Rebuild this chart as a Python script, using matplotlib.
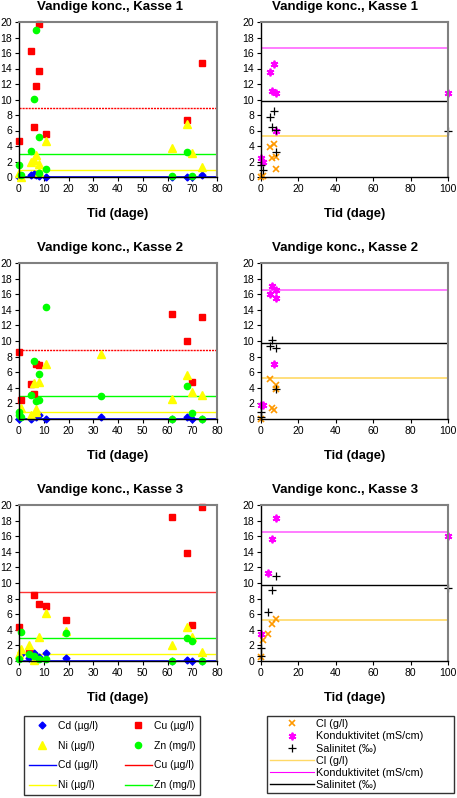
import numpy as np
import matplotlib
matplotlib.use("Agg")
import matplotlib.pyplot as plt
from matplotlib.lines import Line2D

plt.rcParams['font.family'] = ['Liberation Sans', 'DejaVu Sans']

# (tid, koncentration) for hver kasse
cd1 = [(0, 0.0), (5, 0.2), (6, 0.4), (7, 0.3), (8, 0.1), (11, 0.05), (62, 0.0), (68, 0.0), (70, 0.0), (74, 0.2)]
cu1 = [(0, 4.6), (5, 16.2), (6, 6.4), (7, 11.8), (8, 13.7), (8, 19.8), (11, 5.6), (68, 7.4), (74, 14.7)]
ni1 = [(0, 0.5), (1, 0.0), (5, 1.9), (6, 2.2), (7, 2.9), (8, 1.7), (8, 0.6), (11, 4.7), (62, 3.8), (68, 6.9), (70, 3.1), (74, 1.3)]
zn1 = [(0, 1.6), (1, 0.3), (5, 3.3), (6, 10.1), (7, 19.0), (8, 5.1), (8, 0.5), (11, 1.0), (62, 0.1), (68, 3.2), (70, 0.1)]

cd2 = [(0, 0.0), (5, 0.0), (7, 0.2), (8, 0.5), (11, 0.0), (33, 0.2), (62, 0.0), (68, 0.2), (70, 0.0), (74, 0.0)]
cu2 = [(0, 8.6), (1, 2.4), (5, 4.5), (6, 3.2), (7, 7.1), (8, 6.9), (62, 13.4), (68, 10.0), (70, 4.7), (74, 13.1)]
ni2 = [(1, 1.4), (5, 0.5), (6, 4.6), (7, 0.9), (7, 1.3), (8, 4.7), (11, 7.0), (33, 8.3), (62, 2.6), (68, 5.7), (70, 3.4), (74, 3.1)]
zn2 = [(0, 0.9), (0, 0.5), (1, 0.2), (5, 3.1), (6, 7.5), (7, 2.3), (8, 5.8), (8, 2.5), (11, 14.3), (33, 2.9), (62, 0.0), (68, 4.2), (70, 0.8), (74, 0.0)]

cd3 = [(1, 0.9), (4, 0.4), (6, 1.0), (8, 0.5), (11, 1.0), (19, 0.4), (62, 0.0), (68, 0.1), (70, 0.0), (74, 0.0)]
cu3 = [(0, 4.3), (4, 1.3), (6, 8.4), (8, 7.3), (11, 7.1), (19, 5.3), (62, 18.4), (68, 13.8), (70, 4.6), (74, 19.7)]
ni3 = [(0, 0.9), (1, 1.6), (4, 2.0), (6, 0.1), (8, 3.1), (11, 6.1), (19, 3.9), (62, 2.0), (68, 4.3), (70, 3.1), (74, 1.2)]
zn3 = [(0, 0.2), (1, 3.7), (4, 0.9), (6, 0.6), (8, 0.3), (11, 0.2), (19, 3.6), (62, 0.0), (68, 2.9), (70, 2.6), (74, 0.0)]

cl1 = [(0, 0.0), (1, 0.1), (5, 3.9), (6, 2.4), (7, 4.3), (8, 2.6), (8, 1.0)]
kond1 = [(0, 2.5), (1, 1.9), (5, 13.5), (6, 11.1), (7, 14.6), (8, 10.9), (8, 6.0), (100, 10.9)]
sal1 = [(0, 1.6), (1, 0.9), (5, 7.8), (6, 6.4), (7, 8.5), (8, 6.1), (8, 3.2), (100, 6.0)]

cl2 = [(0, 0.0), (5, 5.1), (6, 1.4), (7, 1.2), (8, 4.3), (8, 3.8)]
kond2 = [(0, 1.8), (1, 1.8), (5, 16.0), (6, 17.1), (7, 7.1), (8, 16.6), (8, 15.5)]
sal2 = [(0, 0.9), (0, 0.3), (5, 9.4), (6, 10.1), (8, 9.1), (8, 3.9)]

cl3 = [(0, 0.5), (1, 2.7), (4, 3.4), (6, 4.7), (8, 5.4)]
kond3 = [(0, 3.4), (4, 11.3), (6, 15.7), (8, 18.3), (100, 16.0)]
sal3 = [(0, 0.7), (0, 1.7), (4, 6.3), (6, 9.1), (8, 10.9), (100, 9.3)]

# graensevaerdier
cd_lim, cu_lim, ni_lim, zn_lim = 0.0, 8.9, 0.9, 3.0
cl_lim, kond_lim, sal_lim = 5.25, 16.6, 9.8

W, H = 457, 798
fig = plt.figure(figsize=(W / 100, H / 100), dpi=100)

def box(x0, y0, x1, y1):
    return [x0 / W, 1 - y1 / H, (x1 - x0) / W, (y1 - y0) / H]

rows = [(22, 177), (263, 419), (505, 661)]
metal = [(cd1, cu1, ni1, zn1), (cd2, cu2, ni2, zn2), (cd3, cu3, ni3, zn3)]
water = [(cl1, kond1, sal1), (cl2, kond2, sal2), (cl3, kond3, sal3)]

c_cd, c_cu, c_ni, c_zn = '#0000FF', '#FF0000', '#FFFF00', '#00FF00'
c_cl, c_kond, c_sal = '#FF9900', '#FF00FF', 'black'
l_cl, l_kond = '#FFD966', '#FF66FF'

mk = dict(ls='none', clip_on=False)
star = (6, 2, 0)

def style(ax, xmax, step):
    ax.set_xlim(0, xmax)
    ax.set_ylim(0, 20)
    ax.set_yticks(np.arange(0, 21, 2))
    ax.set_xticks(np.arange(0, xmax + 1, step))
    ax.tick_params(labelsize=7.5, length=3, width=0.8, pad=2)
    for s in ['left', 'bottom']:
        ax.spines[s].set_color('black')
        ax.spines[s].set_linewidth(1)
    for s in ['top', 'right']:
        ax.spines[s].set_color('#808080')
        ax.spines[s].set_linewidth(1.5)

def xy(pts):
    a = np.array(pts)
    return a[:, 0], a[:, 1]

for i, (top, bot) in enumerate(rows):
    ax = fig.add_axes(box(19, top, 217, bot))
    cd, cu, ni, zn = metal[i]
    ls_cu = (0, (1.5, 0.7)) if i < 2 else '-'
    ax.axhline(cu_lim, color=c_cu, lw=1, ls=ls_cu, alpha=0.8 if i == 2 else 1)
    ax.axhline(zn_lim, color=c_zn, lw=1)
    ax.axhline(ni_lim, color=c_ni, lw=1)
    ax.axhline(cd_lim, color=c_cd, lw=1.2)
    ax.plot(*xy(cd), marker='D', ms=3.5, color=c_cd, **mk)
    ax.plot(*xy(cu), marker='s', ms=4.5, color=c_cu, **mk)
    ax.plot(*xy(ni), marker='^', ms=5.5, color=c_ni, **mk)
    ax.plot(*xy(zn), marker='o', ms=4.5, color=c_zn, **mk)
    style(ax, 80, 10)
    fig.text(110 / W, 1 - (top - 15) / H, 'Vandige konc., Kasse %d' % (i + 1),
             ha='center', va='center', fontsize=9.5, fontweight='bold')
    fig.text(118 / W, 1 - (bot + 37) / H, 'Tid (dage)', ha='center', va='center',
             fontsize=9.3, fontweight='bold')

    ax = fig.add_axes(box(261, top, 448, bot))
    cl, kond, sal = water[i]
    ax.axhline(cl_lim, color=l_cl, lw=1.2)
    ax.axhline(kond_lim, color=l_kond, lw=1.2)
    ax.axhline(sal_lim, color=c_sal, lw=1)
    ax.plot(*xy(cl), marker='x', ms=4.5, mew=1.2, color=c_cl, **mk)
    ax.plot(*xy(kond), marker=star, ms=5.5, mew=1.3, color=c_kond, **mk)
    ax.plot(*xy(sal), marker='+', ms=6, mew=0.9, color=c_sal, **mk)
    style(ax, 100, 20)
    fig.text(345 / W, 1 - (top - 15) / H, 'Vandige konc., Kasse %d' % (i + 1),
             ha='center', va='center', fontsize=9.5, fontweight='bold')
    fig.text(355 / W, 1 - (bot + 37) / H, 'Tid (dage)', ha='center', va='center',
             fontsize=9.3, fontweight='bold')

# legender
h_cd = Line2D([], [], ls='none', marker='D', ms=3.5, color=c_cd)
h_cu = Line2D([], [], ls='none', marker='s', ms=4.5, color=c_cu)
h_ni = Line2D([], [], ls='none', marker='^', ms=5.5, color=c_ni)
h_zn = Line2D([], [], ls='none', marker='o', ms=4.5, color=c_zn)
hl_cd = Line2D([], [], color=c_cd, lw=1)
hl_cu = Line2D([], [], color=c_cu, lw=1)
hl_ni = Line2D([], [], color=c_ni, lw=1)
hl_zn = Line2D([], [], color=c_zn, lw=1)
handles = [h_cd, h_ni, hl_cd, hl_ni, h_cu, h_zn, hl_cu, hl_zn]
labels = ['Cd (µg/l)', 'Ni (µg/l)', 'Cd (µg/l)', 'Ni (µg/l)',
          'Cu (µg/l)', 'Zn (mg/l)', 'Cu (µg/l)', 'Zn (mg/l)']
leg = fig.legend(handles, labels, ncol=2, loc='upper left', mode='expand',
                 bbox_to_anchor=(24 / W, 1 - 716 / H, 176 / W, 0), fontsize=7.5,
                 frameon=True, fancybox=False, edgecolor='black',
                 labelspacing=0.95, handlelength=2.6, handletextpad=0.2,
                 columnspacing=1.0, borderpad=0.45, borderaxespad=0)
leg.get_frame().set_linewidth(1)

h_cl = Line2D([], [], ls='none', marker='x', ms=4.5, mew=1.2, color=c_cl)
h_kond = Line2D([], [], ls='none', marker=star, ms=5.5, mew=1.3, color=c_kond)
h_sal = Line2D([], [], ls='none', marker='+', ms=6, mew=0.9, color=c_sal)
hl_cl = Line2D([], [], color=l_cl, lw=1)
hl_kond = Line2D([], [], color=c_kond, lw=0.8)
hl_sal = Line2D([], [], color=c_sal, lw=1)
leg2 = fig.legend([h_cl, h_kond, h_sal, hl_cl, hl_kond, hl_sal],
                  ['Cl (g/l)', 'Konduktivitet (mS/cm)', 'Salinitet (‰)',
                   'Cl (g/l)', 'Konduktivitet (mS/cm)', 'Salinitet (‰)'],
                  loc='upper left', mode='expand',
                  bbox_to_anchor=(267 / W, 1 - 716 / H, 187 / W, 0),
                  fontsize=7.8, frameon=True, fancybox=False, edgecolor='black',
                  labelspacing=0.2, handlelength=4.0, handletextpad=0.25,
                  borderpad=0.3, borderaxespad=0)
leg2.get_frame().set_linewidth(1)

fig.savefig('out.png', dpi=100)
